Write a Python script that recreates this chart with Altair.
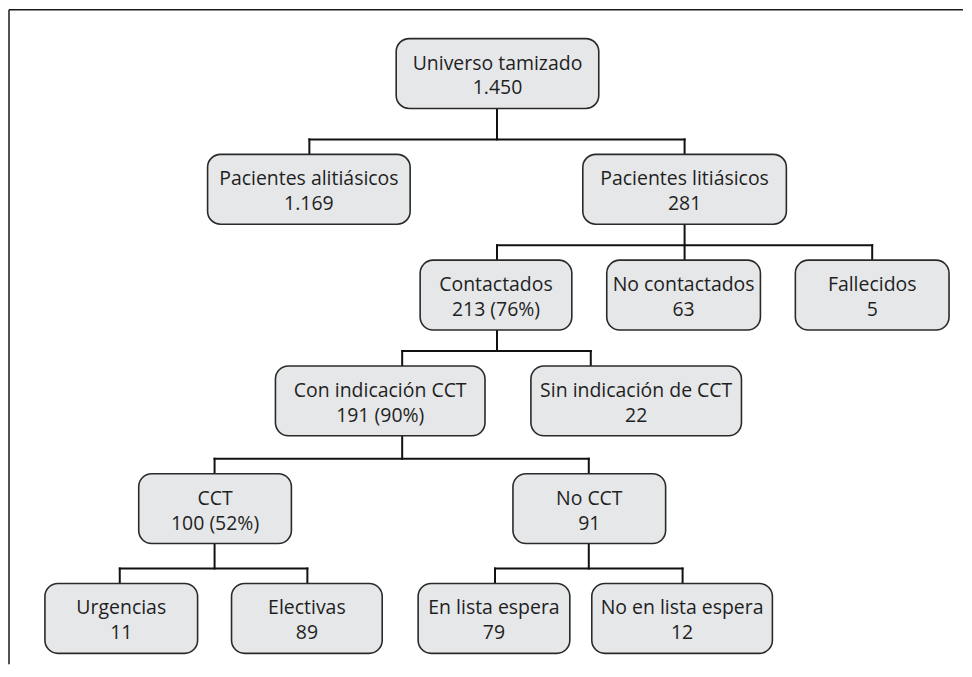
import pandas as pd
import altair as alt

# Flowchart content
labels = [
    "Universo tamizado", "Pacientes alitiásicos", "Pacientes litiásicos",
    "Contactados", "No contactados", "Fallecidos",
    "Con indicación CCT", "Sin indicación de CCT",
    "CCT", "No CCT",
    "Urgencias", "Electivas", "En lista espera", "No en lista espera",
]
counts = [
    "1.450", "1.169", "281",
    "213 (76%)", "63", "5",
    "191 (90%)", "22",
    "100 (52%)", "91",
    "11", "89", "79", "12",
]
parents = [None, 0, 0, 2, 2, 2, 3, 3, 6, 6, 8, 8, 9, 9]

# Layout of the diagram (pixel units of the plot area)
W, H = 956, 656
row_top = [29, 145, 251, 357, 465, 575]
box_h = 70
node_row = [0, 1, 1, 2, 2, 2, 3, 3, 4, 4, 5, 5, 5, 5]
box_left = [388, 199, 575, 412, 599, 788, 267, 523, 130, 505, 36, 223, 410, 584]
box_right = [591, 402, 779, 564, 753, 942, 477, 734, 283, 658, 189, 374, 562, 765]
anchor_x = [489, 301, 677, 489, 677, 865, 394, 583, 206, 581, 111, 299, 487, 675]


def make_chart():
    nodes = pd.DataFrame({
        "label": [f"{a}\n{b}" for a, b in zip(labels, counts)],
        "x1": box_left,
        "x2": box_right,
        "y1": [row_top[r] for r in node_row],
        "y2": [row_top[r] + box_h for r in node_row],
    })
    nodes["cx"] = (nodes["x1"] + nodes["x2"]) / 2
    nodes["cy"] = (nodes["y1"] + nodes["y2"]) / 2

    # Elbow connectors: trunk, horizontal bar, drops to each child
    segs = []
    for p in range(len(labels)):
        kids = [i for i, q in enumerate(parents) if q == p]
        if not kids:
            continue
        bar_y = row_top[node_row[kids[0]]] - 15
        bottom = row_top[node_row[p]] + box_h
        segs.append((anchor_x[p], bottom, anchor_x[p], bar_y))
        xs = [anchor_x[k] for k in kids] + [anchor_x[p]]
        segs.append((min(xs), bar_y, max(xs), bar_y))
        for k in kids:
            segs.append((anchor_x[k], bar_y, anchor_x[k], row_top[node_row[k]]))
    links = pd.DataFrame(segs, columns=["x", "y", "x2", "y2"])

    frame = pd.DataFrame({"x": [0, 0], "y": [0, 0], "x2": [W, 0], "y2": [0, H]})

    xs = alt.Scale(domain=[0, W], nice=False, zero=False)
    ys = alt.Scale(domain=[0, H], nice=False, zero=False, reverse=True)

    border = alt.Chart(frame).mark_rule(color="#1a1a1a", strokeWidth=1.5).encode(
        x=alt.X("x:Q", scale=xs, axis=None),
        y=alt.Y("y:Q", scale=ys, axis=None),
        x2="x2:Q",
        y2="y2:Q",
    )

    lines = alt.Chart(links).mark_rule(
        color="#111111", strokeWidth=2, strokeCap="square"
    ).encode(
        x=alt.X("x:Q", scale=xs, axis=None),
        y=alt.Y("y:Q", scale=ys, axis=None),
        x2="x2:Q",
        y2="y2:Q",
    )

    boxes = alt.Chart(nodes).mark_rect(
        cornerRadius=13, fill="#e6e7e9", stroke="#2a2a2a", strokeWidth=1.6
    ).encode(
        x=alt.X("x1:Q", scale=xs, axis=None),
        x2="x2:Q",
        y=alt.Y("y1:Q", scale=ys, axis=None),
        y2="y2:Q",
    )

    # first line sits on the anchor with baseline middle, so lift the block
    text = alt.Chart(nodes).mark_text(
        font="Open Sans", fontSize=19.5, color="#1f1f1f",
        lineBreak="\n", lineHeight=25, align="center", baseline="middle", dy=-10,
    ).encode(
        x=alt.X("cx:Q", scale=xs, axis=None),
        y=alt.Y("cy:Q", scale=ys, axis=None),
        text="label:N",
    )

    return (border + lines + boxes + text).properties(
        width=W, height=H, padding=0, background="white"
    ).configure_view(stroke=None)


chart = make_chart()
chart.save("out.html", embed_options={"renderer": "svg", "actions": False})
